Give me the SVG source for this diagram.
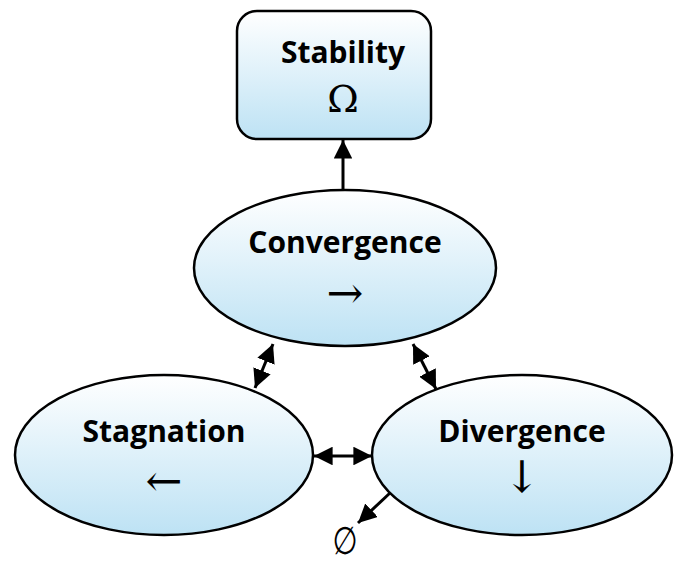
<svg xmlns="http://www.w3.org/2000/svg" width="679" height="563" viewBox="0 0 679 563">
<defs>
<linearGradient id="g" x1="0" y1="0" x2="0" y2="1">
<stop offset="0" stop-color="#ffffff"/>
<stop offset="1" stop-color="#bde2f4"/>
</linearGradient>
<marker id="ah" viewBox="0 0 10 10" refX="10" refY="5" markerWidth="6.2" markerHeight="6.2" orient="auto-start-reverse" markerUnits="strokeWidth">
<path d="M0,0 L10,5 L0,10 Z" fill="#000"/>
</marker>
<style>
.shape{fill:url(#g);stroke:#000;stroke-width:2.5}
.lbl{font-family:"Open Sans","Liberation Sans",sans-serif;font-weight:bold;font-size:30px;text-anchor:middle;fill:#000}
.sym{font-family:"DejaVu Serif",serif;font-size:38px;text-anchor:middle;fill:#000}
.arr{font-family:"DejaVu Serif",serif;font-size:44px;text-anchor:middle;fill:#000}
.emp{font-family:"DejaVu Sans",sans-serif;font-size:32px;text-anchor:middle;fill:#000}
.c{stroke:#000;stroke-width:3;fill:none}
</style>
</defs>
<rect width="679" height="563" fill="#fff"/>
<g id="connectors">
<line class="c" x1="343" y1="190" x2="343" y2="140" marker-end="url(#ah)"/>
<line class="c" x1="273" y1="344" x2="255" y2="388" marker-start="url(#ah)" marker-end="url(#ah)"/>
<line class="c" x1="413" y1="344" x2="436" y2="389" marker-start="url(#ah)" marker-end="url(#ah)"/>
<line class="c" x1="314" y1="456" x2="372" y2="456" marker-start="url(#ah)" marker-end="url(#ah)"/>
<line class="c" x1="390" y1="493" x2="358" y2="523" marker-end="url(#ah)"/>
</g>
<g id="stability">
<rect class="shape" x="237" y="11" width="194" height="128" rx="20"/>
<text class="lbl" x="343" y="63">Stability</text>
<text class="sym" x="343" y="112">Ω</text>
</g>
<g id="convergence">
<ellipse class="shape" cx="345" cy="268" rx="151" ry="78"/>
<text class="lbl" x="345" y="253">Convergence</text>
<text class="arr" x="345" y="308">→</text>
</g>
<g id="stagnation">
<ellipse class="shape" cx="164" cy="455" rx="149" ry="80"/>
<text class="lbl" x="164" y="442">Stagnation</text>
<text class="arr" x="164" y="496">←</text>
</g>
<g id="divergence">
<ellipse class="shape" cx="522" cy="455" rx="150" ry="80"/>
<text class="lbl" x="522" y="442">Divergence</text>
<text class="arr" x="522" y="492">↓</text>
</g>
<g id="empty">
<text class="emp" transform="translate(345,554) scale(0.9,1.2)" x="0" y="0">∅</text>
</g>
</svg>
